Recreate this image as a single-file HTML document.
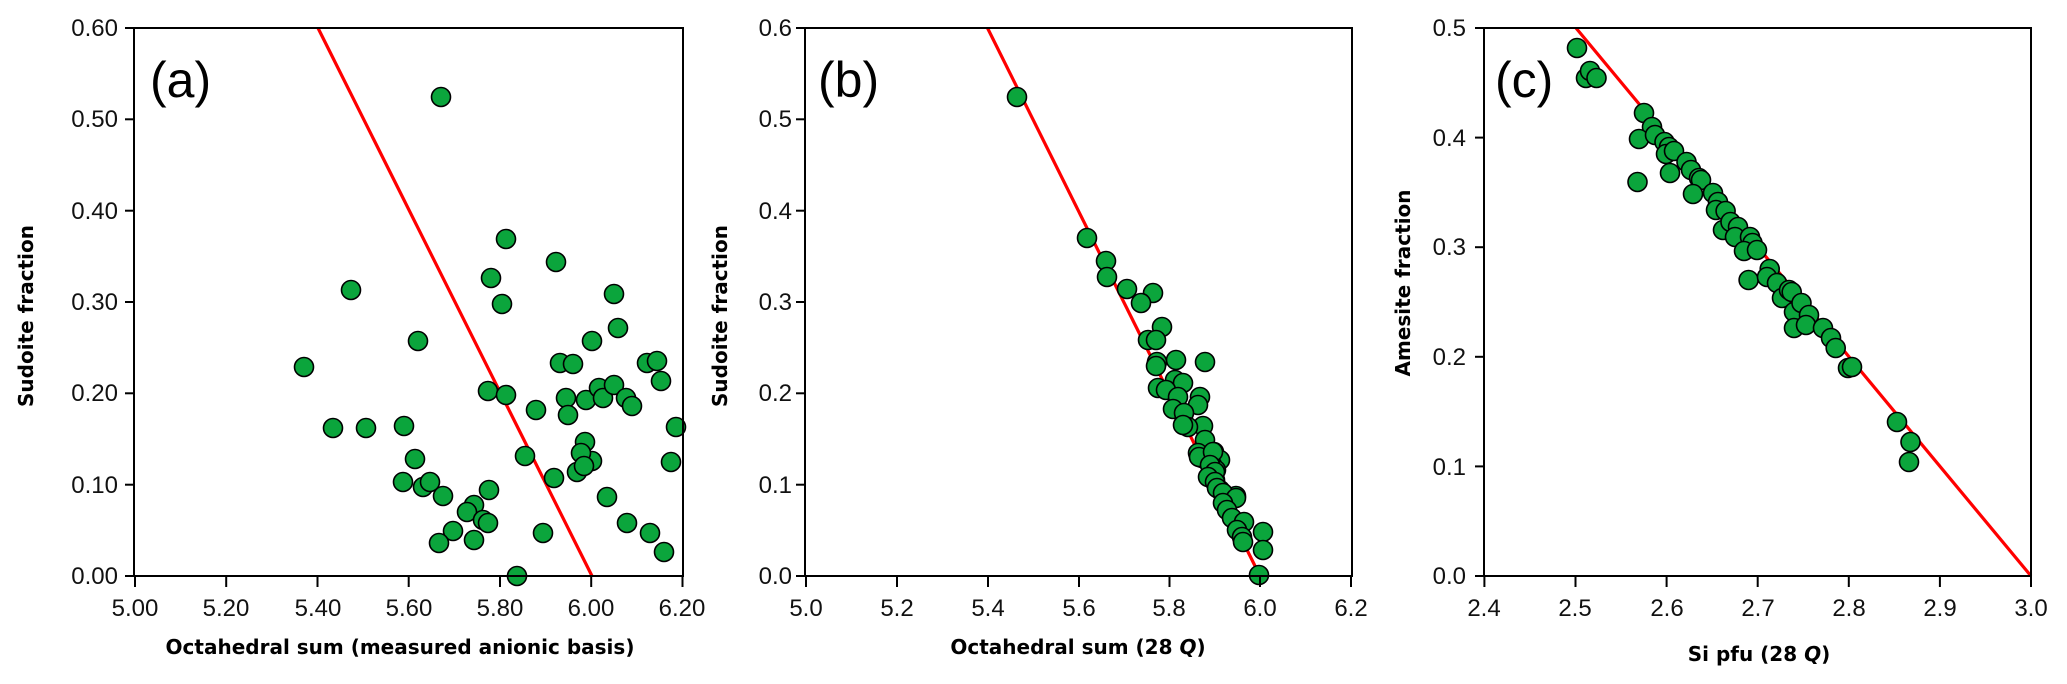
<!DOCTYPE html>
<html><head><meta charset="utf-8"><style>
html,body{margin:0;padding:0;background:#fff;}
svg{display:block;}
text{font-family:"Liberation Sans",sans-serif;}
.t{font-size:24px;fill:#111;}
.ti{font-family:"DejaVu Sans",sans-serif;font-weight:bold;font-size:20px;fill:#000;}
.pl{font-size:50px;fill:#000;}
circle{fill:#0ba53c;stroke:#000;stroke-width:1.6;}
.ax{stroke:#000;stroke-width:2;fill:none;}
.rl{stroke:#f00;stroke-width:3.2;}
</style></head><body>
<svg width="2067" height="684" viewBox="0 0 2067 684" xmlns="http://www.w3.org/2000/svg">
<!-- Panel a -->
<line class="rl" x1="318" y1="28" x2="592" y2="576"/>
<g>
<circle cx="441" cy="97" r="9.5"/><circle cx="304" cy="367" r="9.5"/><circle cx="351" cy="290" r="9.5"/>
<circle cx="333" cy="428" r="9.5"/><circle cx="366" cy="428" r="9.5"/><circle cx="404" cy="426" r="9.5"/>
<circle cx="418" cy="341" r="9.5"/><circle cx="415" cy="459" r="9.5"/><circle cx="403" cy="482" r="9.5"/>
<circle cx="423" cy="487" r="9.5"/><circle cx="430" cy="482" r="9.5"/><circle cx="443" cy="496" r="9.5"/>
<circle cx="489" cy="490" r="9.5"/><circle cx="474" cy="505" r="9.5"/><circle cx="467" cy="512" r="9.5"/>
<circle cx="483" cy="520" r="9.5"/><circle cx="488" cy="523" r="9.5"/><circle cx="453" cy="531" r="9.5"/>
<circle cx="439" cy="543" r="9.5"/><circle cx="474" cy="540" r="9.5"/>
<circle cx="506" cy="239" r="9.5"/><circle cx="491" cy="278" r="9.5"/><circle cx="502" cy="304" r="9.5"/>
<circle cx="488" cy="391" r="9.5"/><circle cx="506" cy="395" r="9.5"/><circle cx="525" cy="456" r="9.5"/>
<circle cx="536" cy="410" r="9.5"/><circle cx="554" cy="478" r="9.5"/><circle cx="556" cy="262" r="9.5"/>
<circle cx="560" cy="363" r="9.5"/><circle cx="573" cy="364" r="9.5"/><circle cx="566" cy="398" r="9.5"/>
<circle cx="568" cy="415" r="9.5"/><circle cx="586" cy="400" r="9.5"/><circle cx="592" cy="341" r="9.5"/>
<circle cx="614" cy="294" r="9.5"/><circle cx="618" cy="328" r="9.5"/><circle cx="599" cy="388" r="9.5"/>
<circle cx="603" cy="398" r="9.5"/><circle cx="614" cy="385" r="9.5"/><circle cx="626" cy="398" r="9.5"/>
<circle cx="632" cy="406" r="9.5"/><circle cx="647" cy="363" r="9.5"/><circle cx="657" cy="361" r="9.5"/>
<circle cx="661" cy="381" r="9.5"/><circle cx="676" cy="427" r="9.5"/><circle cx="671" cy="462" r="9.5"/>
<circle cx="585" cy="442" r="9.5"/><circle cx="592" cy="461" r="9.5"/><circle cx="581" cy="453" r="9.5"/>
<circle cx="577" cy="472" r="9.5"/><circle cx="584" cy="466" r="9.5"/><circle cx="607" cy="497" r="9.5"/>
<circle cx="543" cy="533" r="9.5"/><circle cx="517" cy="576" r="9.5"/><circle cx="627" cy="523" r="9.5"/>
<circle cx="650" cy="533" r="9.5"/><circle cx="664" cy="552" r="9.5"/>
</g>
<rect class="ax" x="134" y="28" width="549" height="548"/>
<g class="ax">
<line x1="125" y1="28" x2="134" y2="28"/><line x1="125" y1="119.3" x2="134" y2="119.3"/><line x1="125" y1="210.7" x2="134" y2="210.7"/>
<line x1="125" y1="302" x2="134" y2="302"/><line x1="125" y1="393.3" x2="134" y2="393.3"/><line x1="125" y1="484.7" x2="134" y2="484.7"/><line x1="125" y1="576" x2="134" y2="576"/>
<line x1="135" y1="576" x2="135" y2="587"/><line x1="226.2" y1="576" x2="226.2" y2="587"/><line x1="317.5" y1="576" x2="317.5" y2="587"/>
<line x1="408.7" y1="576" x2="408.7" y2="587"/><line x1="500" y1="576" x2="500" y2="587"/><line x1="591.2" y1="576" x2="591.2" y2="587"/><line x1="682.5" y1="576" x2="682.5" y2="587"/>
</g>
<g class="t" text-anchor="end">
<text x="118" y="36">0.60</text><text x="118" y="127">0.50</text><text x="118" y="219">0.40</text><text x="118" y="310">0.30</text>
<text x="118" y="401">0.20</text><text x="118" y="493">0.10</text><text x="118" y="584">0.00</text>
</g>
<g class="t" text-anchor="middle">
<text x="135" y="616">5.00</text><text x="226" y="616">5.20</text><text x="318" y="616">5.40</text><text x="409" y="616">5.60</text>
<text x="500" y="616">5.80</text><text x="591" y="616">6.00</text><text x="682" y="616">6.20</text>
</g>
<text class="ti" x="400" y="654" text-anchor="middle">Octahedral sum (measured anionic basis)</text>
<text class="ti" transform="translate(33,316) rotate(-90)" text-anchor="middle">Sudoite fraction</text>
<text class="pl" x="150" y="97">(a)</text>

<!-- Panel b -->
<line class="rl" x1="987.5" y1="28" x2="1260" y2="576"/>
<g>
<circle cx="1017" cy="97" r="9.5"/><circle cx="1087" cy="238" r="9.5"/><circle cx="1106" cy="261" r="9.5"/>
<circle cx="1107" cy="277" r="9.5"/><circle cx="1127" cy="289" r="9.5"/><circle cx="1153" cy="293" r="9.5"/>
<circle cx="1141" cy="303" r="9.5"/><circle cx="1162" cy="327" r="9.5"/><circle cx="1148" cy="340" r="9.5"/>
<circle cx="1156" cy="340" r="9.5"/><circle cx="1157" cy="362" r="9.5"/><circle cx="1176" cy="360" r="9.5"/>
<circle cx="1205" cy="362" r="9.5"/><circle cx="1156" cy="366" r="9.5"/><circle cx="1175" cy="380" r="9.5"/>
<circle cx="1183" cy="383" r="9.5"/><circle cx="1158" cy="388" r="9.5"/><circle cx="1166" cy="390" r="9.5"/>
<circle cx="1178" cy="397" r="9.5"/><circle cx="1200" cy="397" r="9.5"/><circle cx="1198" cy="405" r="9.5"/>
<circle cx="1173" cy="409" r="9.5"/><circle cx="1184" cy="413" r="9.5"/><circle cx="1203" cy="426" r="9.5"/>
<circle cx="1188" cy="427" r="9.5"/><circle cx="1183" cy="425" r="9.5"/><circle cx="1205" cy="440" r="9.5"/>
<circle cx="1198" cy="453" r="9.5"/><circle cx="1214" cy="452" r="9.5"/><circle cx="1220" cy="460" r="9.5"/>
<circle cx="1202" cy="458" r="9.5"/><circle cx="1212" cy="465" r="9.5"/><circle cx="1216" cy="470" r="9.5"/>
<circle cx="1209" cy="477" r="9.5"/><circle cx="1215" cy="480" r="9.5"/><circle cx="1220" cy="490" r="9.5"/>
<circle cx="1236" cy="496" r="9.5"/><circle cx="1199" cy="457" r="9.5"/><circle cx="1213" cy="452" r="9.5"/>
<circle cx="1210" cy="465" r="9.5"/><circle cx="1215" cy="472" r="9.5"/><circle cx="1208" cy="477" r="9.5"/>
<circle cx="1215" cy="482" r="9.5"/><circle cx="1217" cy="488" r="9.5"/><circle cx="1223" cy="493" r="9.5"/>
<circle cx="1236" cy="498" r="9.5"/><circle cx="1223" cy="503" r="9.5"/><circle cx="1227" cy="510" r="9.5"/>
<circle cx="1232" cy="518" r="9.5"/><circle cx="1244" cy="522" r="9.5"/><circle cx="1237" cy="530" r="9.5"/>
<circle cx="1242" cy="537" r="9.5"/><circle cx="1243" cy="542" r="9.5"/><circle cx="1263" cy="532" r="9.5"/>
<circle cx="1263" cy="550" r="9.5"/><circle cx="1259" cy="575" r="9.5"/>
</g>
<rect class="ax" x="805" y="28" width="547" height="548"/>
<g class="ax">
<line x1="796" y1="28" x2="805" y2="28"/><line x1="796" y1="119.3" x2="805" y2="119.3"/><line x1="796" y1="210.7" x2="805" y2="210.7"/>
<line x1="796" y1="302" x2="805" y2="302"/><line x1="796" y1="393.3" x2="805" y2="393.3"/><line x1="796" y1="484.7" x2="805" y2="484.7"/><line x1="796" y1="576" x2="805" y2="576"/>
<line x1="806" y1="576" x2="806" y2="587"/><line x1="897" y1="576" x2="897" y2="587"/><line x1="988" y1="576" x2="988" y2="587"/>
<line x1="1079" y1="576" x2="1079" y2="587"/><line x1="1169.5" y1="576" x2="1169.5" y2="587"/><line x1="1260" y1="576" x2="1260" y2="587"/><line x1="1351" y1="576" x2="1351" y2="587"/>
</g>
<g class="t" text-anchor="end">
<text x="792" y="36">0.6</text><text x="792" y="127">0.5</text><text x="792" y="219">0.4</text><text x="792" y="310">0.3</text>
<text x="792" y="401">0.2</text><text x="792" y="493">0.1</text><text x="792" y="584">0.0</text>
</g>
<g class="t" text-anchor="middle">
<text x="806" y="616">5.0</text><text x="897" y="616">5.2</text><text x="988" y="616">5.4</text><text x="1079" y="616">5.6</text>
<text x="1169" y="616">5.8</text><text x="1260" y="616">6.0</text><text x="1351" y="616">6.2</text>
</g>
<text class="ti" x="1078" y="654" text-anchor="middle">Octahedral sum (28 <tspan font-style="italic">Q</tspan>)</text>
<text class="ti" transform="translate(727,316) rotate(-90)" text-anchor="middle">Sudoite fraction</text>
<text class="pl" x="818" y="97">(b)</text>

<!-- Panel c -->
<line class="rl" x1="1576" y1="28" x2="2031" y2="576"/>
<g>
<circle cx="1577" cy="48" r="9.5"/><circle cx="1586" cy="78" r="9.5"/><circle cx="1590" cy="71" r="9.5"/>
<circle cx="1596.5" cy="78" r="9.5"/><circle cx="1644" cy="113" r="9.5"/><circle cx="1652" cy="127" r="9.5"/>
<circle cx="1639" cy="139" r="9.5"/><circle cx="1655" cy="135" r="9.5"/><circle cx="1664.5" cy="142" r="9.5"/>
<circle cx="1669" cy="147" r="9.5"/><circle cx="1666" cy="154" r="9.5"/><circle cx="1674" cy="151" r="9.5"/>
<circle cx="1670" cy="173" r="9.5"/><circle cx="1637.5" cy="182" r="9.5"/><circle cx="1686.5" cy="162" r="9.5"/>
<circle cx="1691" cy="170" r="9.5"/><circle cx="1699" cy="178" r="9.5"/><circle cx="1701" cy="180" r="9.5"/>
<circle cx="1693" cy="194" r="9.5"/><circle cx="1713" cy="193" r="9.5"/><circle cx="1718" cy="202" r="9.5"/>
<circle cx="1716" cy="210" r="9.5"/><circle cx="1725.6" cy="211" r="9.5"/><circle cx="1723" cy="230" r="9.5"/>
<circle cx="1730.5" cy="222" r="9.5"/><circle cx="1738" cy="227" r="9.5"/><circle cx="1735" cy="237" r="9.5"/>
<circle cx="1750" cy="237" r="9.5"/><circle cx="1752.5" cy="243" r="9.5"/><circle cx="1744" cy="251" r="9.5"/>
<circle cx="1757" cy="250" r="9.5"/><circle cx="1748.6" cy="280" r="9.5"/><circle cx="1769.7" cy="269" r="9.5"/>
<circle cx="1767" cy="277" r="9.5"/><circle cx="1777" cy="283" r="9.5"/><circle cx="1782" cy="298" r="9.5"/>
<circle cx="1789" cy="290" r="9.5"/><circle cx="1791.7" cy="292" r="9.5"/><circle cx="1794" cy="312" r="9.5"/>
<circle cx="1801.5" cy="303" r="9.5"/><circle cx="1809" cy="315" r="9.5"/><circle cx="1794" cy="328" r="9.5"/>
<circle cx="1806" cy="325" r="9.5"/><circle cx="1823" cy="328" r="9.5"/><circle cx="1831" cy="338" r="9.5"/>
<circle cx="1835.7" cy="348" r="9.5"/><circle cx="1848" cy="368" r="9.5"/><circle cx="1852" cy="367" r="9.5"/>
<circle cx="1897" cy="422" r="9.5"/><circle cx="1910.5" cy="442" r="9.5"/><circle cx="1909" cy="462" r="9.5"/>
</g>
<rect class="ax" x="1484" y="28" width="547" height="548"/>
<g class="ax">
<line x1="1475" y1="28" x2="1484" y2="28"/><line x1="1475" y1="137.6" x2="1484" y2="137.6"/><line x1="1475" y1="247.2" x2="1484" y2="247.2"/>
<line x1="1475" y1="356.8" x2="1484" y2="356.8"/><line x1="1475" y1="466.4" x2="1484" y2="466.4"/><line x1="1475" y1="576" x2="1484" y2="576"/>
<line x1="1484.4" y1="576" x2="1484.4" y2="587"/><line x1="1575.5" y1="576" x2="1575.5" y2="587"/><line x1="1666.6" y1="576" x2="1666.6" y2="587"/>
<line x1="1757.7" y1="576" x2="1757.7" y2="587"/><line x1="1848.8" y1="576" x2="1848.8" y2="587"/><line x1="1939.9" y1="576" x2="1939.9" y2="587"/><line x1="2031" y1="576" x2="2031" y2="587"/>
</g>
<g class="t" text-anchor="end">
<text x="1466" y="36">0.5</text><text x="1466" y="146">0.4</text><text x="1466" y="255">0.3</text>
<text x="1466" y="365">0.2</text><text x="1466" y="475">0.1</text><text x="1466" y="584">0.0</text>
</g>
<g class="t" text-anchor="middle">
<text x="1484" y="616">2.4</text><text x="1575" y="616">2.5</text><text x="1667" y="616">2.6</text><text x="1758" y="616">2.7</text>
<text x="1849" y="616">2.8</text><text x="1940" y="616">2.9</text><text x="2031" y="616">3.0</text>
</g>
<text class="ti" x="1759" y="661" text-anchor="middle">Si pfu (28 <tspan font-style="italic">Q</tspan>)</text>
<text class="ti" transform="translate(1410,283) rotate(-90)" text-anchor="middle">Amesite fraction</text>
<text class="pl" x="1495" y="97">(c)</text>
</svg>
</body></html>
